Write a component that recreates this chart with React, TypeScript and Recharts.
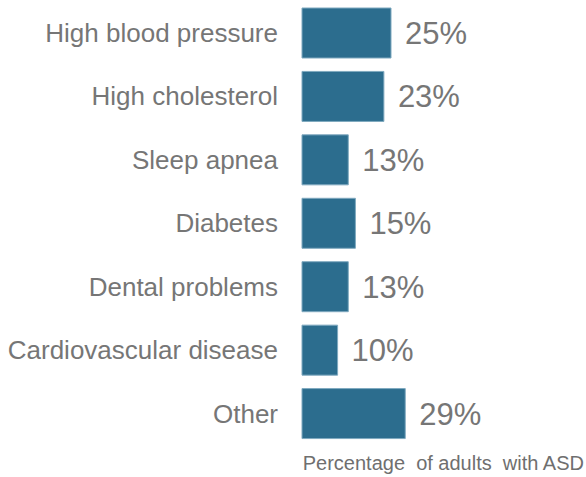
import { Bar, BarChart, LabelList, XAxis, YAxis } from 'recharts'

const categories = [
  'High blood pressure',
  'High cholesterol',
  'Sleep apnea',
  'Diabetes',
  'Dental problems',
  'Cardiovascular disease',
  'Other',
]
const percentages = [25, 23, 13, 15, 13, 10, 29]
const axisTitle = 'Percentage\u00a0 of adults\u00a0 with ASD'

const FONT = '"Liberation Sans", Arial, sans-serif'
const GREY = '#767676'

// the page keeps the default 8px body margin; drop it so the chart sits at 0,0
if (typeof document !== 'undefined') document.body.style.margin = '0'

function AxisTitle() {
  return (
    <text x={584} y={470} textAnchor="end" fontSize={20} fill="#6f6f6f" fontFamily={FONT}>
      {axisTitle}
    </text>
  )
}

function App() {
  const data = categories.map((name, i) => ({ name, value: percentages[i] }))

  return (
    <div style={{ width: 586, height: 477, background: '#fff', fontFamily: FONT }}>
      <BarChart
        width={586}
        height={477}
        data={data}
        layout="vertical"
        margin={{ top: 1, right: 106, bottom: 0, left: 0 }}
      >
        <XAxis
          type="number"
          domain={[0, 50]}
          axisLine={false}
          tickLine={false}
          tick={false}
          height={32}
          label={<AxisTitle />}
        />
        <YAxis
          type="category"
          dataKey="name"
          width={302}
          axisLine={false}
          tickLine={false}
          tickSize={0}
          tickMargin={24}
          tick={{ fontSize: 26, fill: GREY, fontFamily: FONT }}
        />
        <Bar dataKey="value" fill="#2c6d8e" stroke="#7fa9bf" strokeWidth={1} barSize={50} isAnimationActive={false}>
          <LabelList
            dataKey="value"
            position="right"
            offset={14}
            formatter={(v: number) => `${v}%`}
            style={{ fontSize: 31, fill: GREY, fontFamily: FONT }}
          />
        </Bar>
      </BarChart>
    </div>
  )
}

export default App
